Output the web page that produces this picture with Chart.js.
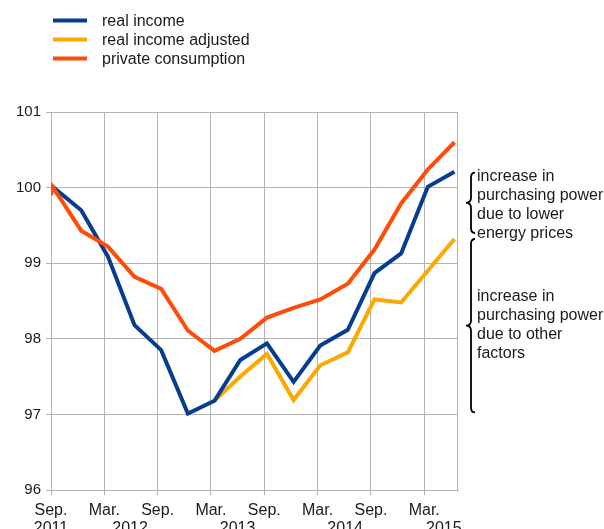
<!DOCTYPE html>
<html>
<head>
<meta charset="utf-8">
<script src="https://cdn.jsdelivr.net/npm/chart.js@4.4.1/dist/chart.umd.min.js"></script>
<style>
  body { margin: 0; background: #fff; }
</style>
</head>
<body>
<canvas id="chart" width="604" height="529"></canvas>
<script>
// months since Sep. 2011 for each quarterly observation
const months = [0.2, 3.4, 6.4, 9.4, 12.4, 15.4, 18.4, 21.3, 24.3, 27.3, 30.3, 33.4, 36.4, 39.4, 42.4, 45.4];
const realIncome = [100.01, 99.70, 99.09, 98.18, 97.85, 97.01, 97.18, 97.72, 97.94, 97.43, 97.91, 98.12, 98.87, 99.13, 100.01, 100.21];
const realIncomeAdjusted = [null, null, null, null, null, null, 97.18, 97.50, 97.80, 97.19, 97.65, 97.82, 98.52, 98.48, 98.90, 99.32];
// private consumption has one extra starting point on the axis
const consumptionMonths = [0, 0.2, 3.4, 6.4, 9.4, 12.4, 15.4, 18.4, 21.3, 24.3, 27.3, 30.3, 33.4, 36.4, 39.4, 42.4, 45.4];
const privateConsumption = [99.90, 100.01, 99.43, 99.22, 98.82, 98.66, 98.11, 97.84, 98.00, 98.28, 98.41, 98.52, 98.73, 99.18, 99.79, 100.24, 100.60];

const tickMonths = [0, 6, 12, 18, 24, 30, 36, 42];
const tickLabels = ['Sep.', 'Mar.', 'Sep.', 'Mar.', 'Sep.', 'Mar.', 'Sep.', 'Mar.'];
const yearMonths = [0, 8.9, 21.0, 33.1, 44.2];
const yearLabels = ['2011', '2012', '2013', '2014', '2015'];

const seriesNames = ['real income', 'real income adjusted', 'private consumption'];
const colors = ['#063d8e', '#fba800', '#ff4c08'];

const upperNote = ['increase in', 'purchasing power', 'due to lower', 'energy prices'];
const lowerNote = ['increase in', 'purchasing power', 'due to other', 'factors'];

const FONT = '16px "Liberation Sans", Arial, sans-serif';
const TEXT = '#1a1a1a';

function pts(xs, ys) {
    return xs.map((m, i) => ({ x: m, y: ys[i] }));
}

function brace(ctx, x, y1, y2) {
    const m = (y1 + y2) / 2, r = 5;
    ctx.beginPath();
    ctx.moveTo(x + 4, y1);
    ctx.quadraticCurveTo(x, y1, x, y1 + r);
    ctx.lineTo(x, m - r);
    ctx.quadraticCurveTo(x, m, x - 5, m);
    ctx.quadraticCurveTo(x, m, x, m + r);
    ctx.lineTo(x, y2 - r);
    ctx.quadraticCurveTo(x, y2, x + 4, y2);
    ctx.stroke();
}

const extras = {
    id: 'extras',
    afterDraw(chart) {
        const ctx = chart.ctx;
        const xs = chart.scales.x, ys = chart.scales.y;
        const area = chart.chartArea;
        ctx.save();

        // frame right edge
        ctx.strokeStyle = '#b3b3b3';
        ctx.lineWidth = 1;
        ctx.beginPath();
        ctx.moveTo(Math.round(area.right) - 0.5, area.top);
        ctx.lineTo(Math.round(area.right) - 0.5, area.bottom);
        ctx.stroke();

        // legend
        ctx.font = FONT;
        ctx.fillStyle = TEXT;
        ctx.textBaseline = 'alphabetic';
        seriesNames.forEach((name, i) => {
            const y = 20.5 + i * 19;
            ctx.strokeStyle = colors[i];
            ctx.lineWidth = 4;
            ctx.beginPath();
            ctx.moveTo(53, y);
            ctx.lineTo(87, y);
            ctx.stroke();
            ctx.fillText(name, 102, y + 5.5);
        });

        // year labels under the month labels
        ctx.textAlign = 'center';
        yearMonths.forEach((m, i) => {
            ctx.fillText(yearLabels[i], xs.getPixelForValue(m), 533);
        });

        // braces and notes
        const last = realIncome.length - 1;
        const yTop = ys.getPixelForValue(realIncome[last]) + 1;
        const yMid = ys.getPixelForValue(realIncomeAdjusted[last]);
        const yBot = ys.getPixelForValue(97) - 2;
        ctx.strokeStyle = '#000';
        ctx.lineWidth = 1.8;
        brace(ctx, 471, yTop, yMid - 6);
        brace(ctx, 471, yMid, yBot);

        ctx.textAlign = 'left';
        upperNote.forEach((t, i) => ctx.fillText(t, 477, 181 + i * 19));
        lowerNote.forEach((t, i) => ctx.fillText(t, 477, 301 + i * 19));
        ctx.restore();
    }
};

const config = {
    type: 'line',
    data: {
        datasets: [
            {
                label: seriesNames[0],
                data: pts(months, realIncome),
                borderColor: colors[0],
                order: 1
            },
            {
                label: seriesNames[1],
                data: pts(months, realIncomeAdjusted),
                borderColor: colors[1],
                order: 2
            },
            {
                label: seriesNames[2],
                data: pts(consumptionMonths, privateConsumption),
                borderColor: colors[2],
                order: 0
            }
        ]
    },
    options: {
        responsive: false,
        animation: false,
        devicePixelRatio: 1,
        layout: {
            padding: { left: 1, top: 112, right: 146, bottom: 0 }
        },
        elements: {
            line: { borderWidth: 4, tension: 0, fill: false, borderCapStyle: 'butt' },
            point: { radius: 0, hoverRadius: 0 }
        },
        scales: {
            x: {
                type: 'linear',
                min: 0,
                max: 45.8,
                afterBuildTicks: s => { s.ticks = tickMonths.map(v => ({ value: v })); },
                afterFit: s => { s.height = 39; },
                grid: { color: '#b3b3b3', tickLength: 5, tickColor: '#b3b3b3' },
                border: { color: '#b3b3b3' },
                ticks: {
                    autoSkip: false,
                    maxRotation: 0,
                    padding: 6,
                    color: TEXT,
                    font: { family: '"Liberation Sans", Arial, sans-serif', size: 16 },
                    callback: (v, i) => tickLabels[i]
                }
            },
            y: {
                min: 96,
                max: 101,
                afterFit: s => { s.width = 50; },
                grid: { color: '#b3b3b3', tickLength: 5, tickColor: '#b3b3b3' },
                border: { color: '#b3b3b3' },
                ticks: {
                    stepSize: 1,
                    padding: 5,
                    color: TEXT,
                    font: { family: '"Liberation Sans", Arial, sans-serif', size: 15 }
                }
            }
        },
        plugins: {
            legend: { display: false },
            tooltip: { enabled: false }
        }
    },
    plugins: [extras]
};

const graphique = new Chart(document.querySelector('#chart').getContext('2d'), config);
</script>
</body>
</html>
